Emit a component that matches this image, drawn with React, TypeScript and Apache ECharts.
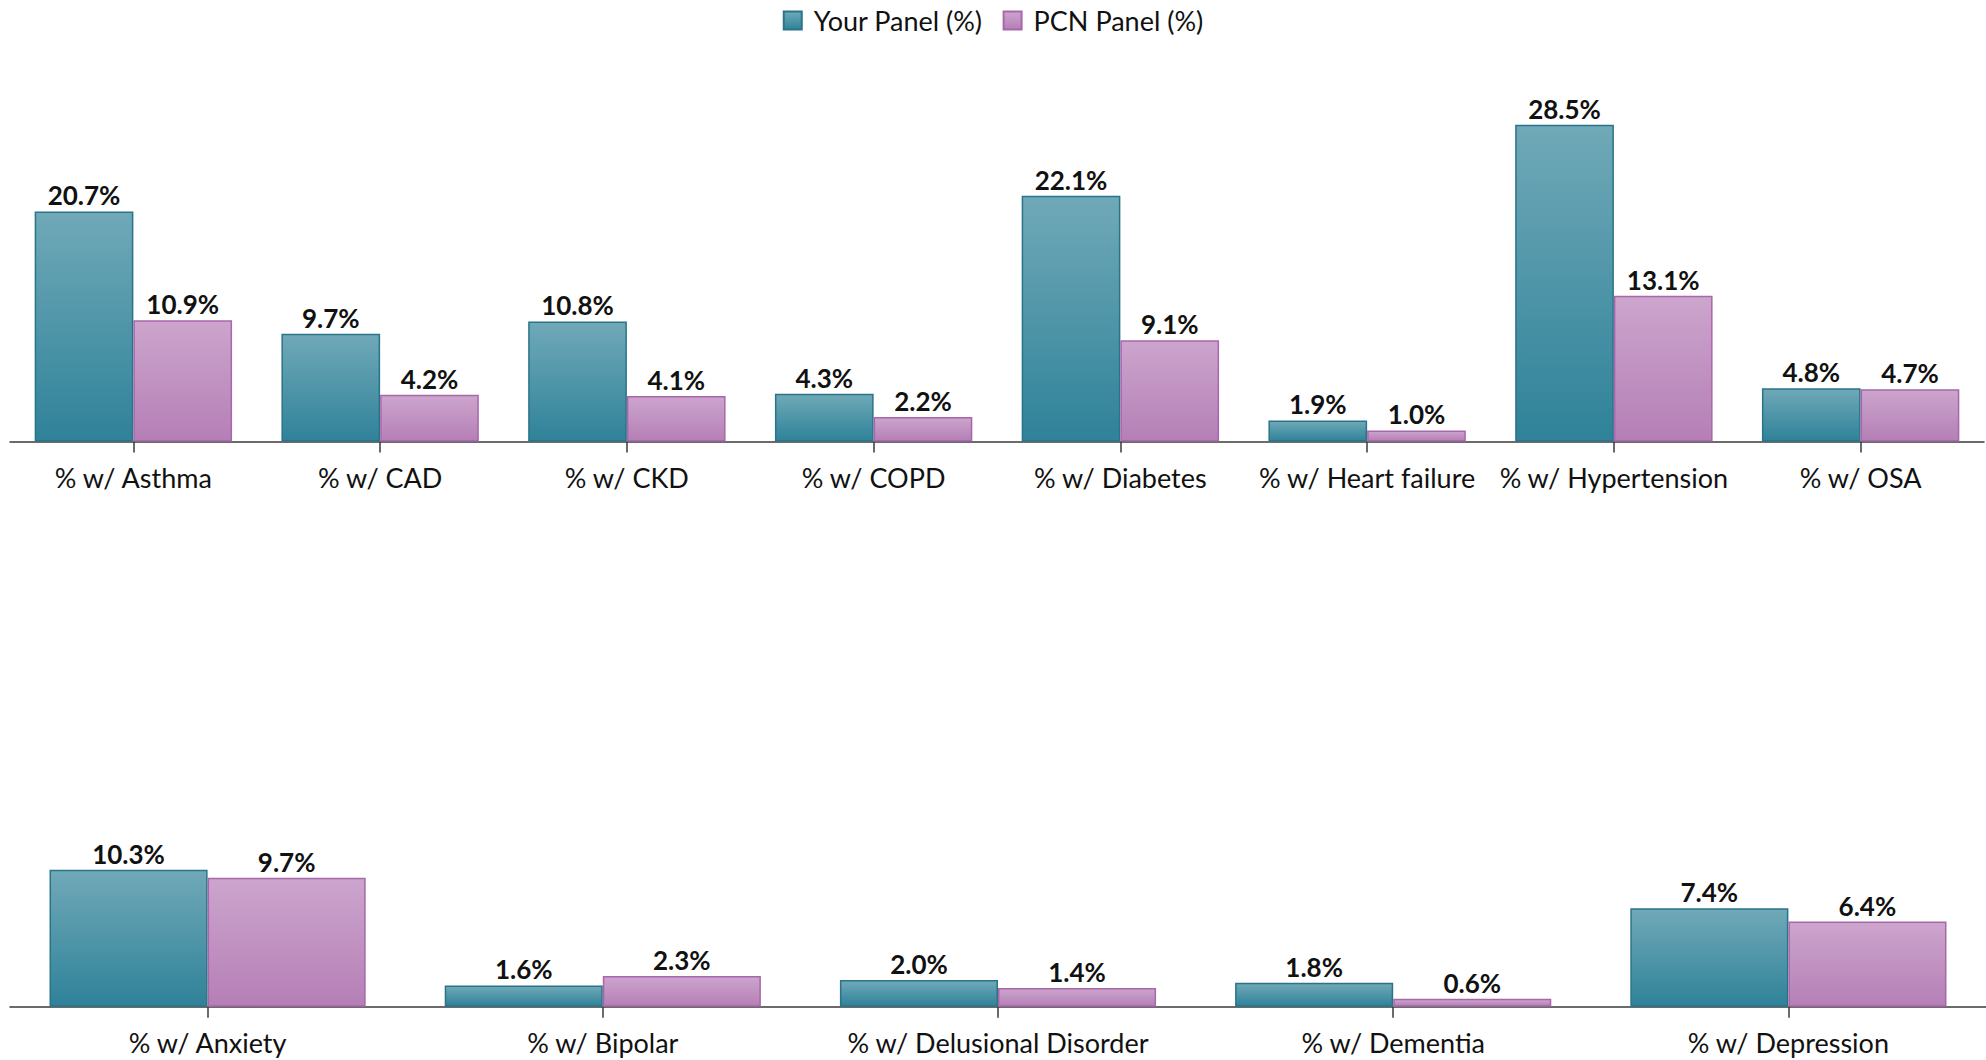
import React, { useEffect, useRef } from "react";
import * as echarts from "echarts";

const topCategories = ["% w/ Asthma", "% w/ CAD", "% w/ CKD", "% w/ COPD", "% w/ Diabetes", "% w/ Heart failure", "% w/ Hypertension", "% w/ OSA"];
const topYour = [20.7, 9.7, 10.8, 4.3, 22.1, 1.9, 28.5, 4.8];
const topPcn = [10.9, 4.2, 4.1, 2.2, 9.1, 1.0, 13.1, 4.7];

const bottomCategories = ["% w/ Anxiety", "% w/ Bipolar", "% w/ Delusional Disorder", "% w/ Dementia", "% w/ Depression"];
const bottomYour = [10.3, 1.6, 2.0, 1.8, 7.4];
const bottomPcn = [9.7, 2.3, 1.4, 0.6, 6.4];

const seriesNames = ["Your Panel (%)", "PCN Panel (%)"];

const FONT = "Lato";

const tealFill = new echarts.graphic.LinearGradient(0, 0, 0, 1, [
  { offset: 0, color: "#70a9b8" },
  { offset: 1, color: "#2f8299" },
]);
const pinkFill = new echarts.graphic.LinearGradient(0, 0, 0, 1, [
  { offset: 0, color: "#cca5cd" },
  { offset: 1, color: "#b57fb6" },
]);

export default function App() {
  const ref = useRef<HTMLDivElement>(null);
  useEffect(() => {
    if (!ref.current) return;
    const chart = echarts.init(ref.current, undefined, { renderer: "svg" });
    const labelCfg = {
      show: true,
      position: "top",
      distance: 3,
      color: "#111",
      fontFamily: FONT,
      fontWeight: "bold",
      fontSize: 26,
      formatter: (p: any) => Number(p.value).toFixed(1) + "%",
    };
    const xAxisCommon = {
      type: "category",
      axisLine: { lineStyle: { color: "#3a3a3a", width: 1.5 } },
      axisTick: { show: true, alignWithLabel: true, length: 11, lineStyle: { color: "#3a3a3a", width: 1.5 } },
      axisLabel: { color: "#111", fontFamily: FONT, fontSize: 27, margin: 22, interval: 0 },
    };
    const yAxisCommon = {
      type: "value",
      min: 0,
      max: 30,
      show: false,
      splitLine: { show: false },
    };
    const mk = (name: string, data: number[], idx: number, teal: boolean) => ({
      name,
      type: "bar",
      xAxisIndex: idx,
      yAxisIndex: idx,
      data,
      barGap: "0%",
      barCategoryGap: "20%",
      itemStyle: {
        color: teal ? tealFill : pinkFill,
        borderColor: teal ? "#2a7489" : "#a867ab",
        borderWidth: 1.5,
      },
      label: labelCfg,
    });
    chart.setOption({
      animation: false,
      backgroundColor: "#ffffff",
      legend: {
        data: seriesNames,
        top: 2,
        left: "center",
        itemWidth: 18,
        itemHeight: 18,
        itemGap: 20,
        icon: "rect",
        textStyle: { fontFamily: FONT, fontSize: 27, color: "#111", padding: [0, 0, 0, 7] },
      },
      grid: [
        { left: 10, right: 2, top: 108, height: 333.5 },
        { left: 10, right: 0, top: 607.7, height: 399 },
      ],
      xAxis: [
        { ...xAxisCommon, gridIndex: 0, data: topCategories },
        { ...xAxisCommon, gridIndex: 1, data: bottomCategories },
      ],
      yAxis: [
        { ...yAxisCommon, gridIndex: 0 },
        { ...yAxisCommon, gridIndex: 1 },
      ],
      series: [
        mk(seriesNames[0], topYour, 0, true),
        mk(seriesNames[1], topPcn, 0, false),
        mk(seriesNames[0], bottomYour, 1, true),
        mk(seriesNames[1], bottomPcn, 1, false),
      ],
    });
    return () => chart.dispose();
  }, []);
  return (
    <div
      ref={ref}
      style={{ position: "fixed", left: 0, top: 0, width: 1986, height: 1060, background: "#fff" }}
    />
  );
}
